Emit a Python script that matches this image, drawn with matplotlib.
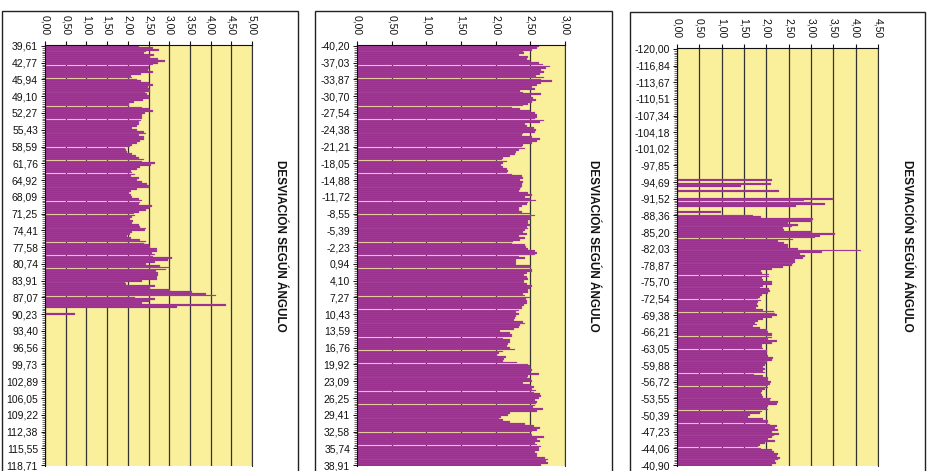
import matplotlib
matplotlib.use('Agg')
import matplotlib.pyplot as plt
from matplotlib.ticker import FixedLocator, FuncFormatter, MultipleLocator
from matplotlib.patches import Rectangle

plt.rcParams['font.family'] = ['Liberation Sans', 'DejaVu Sans']

W, H = 932, 471

title = "DESVIACIÓN SEGÚN ÁNGULO"

labels1 = ["39,61", "42,77", "45,94", "49,10", "52,27", "55,43", "58,59", "61,76", "64,92",
           "68,09", "71,25", "74,41", "77,58", "80,74", "83,91", "87,07", "90,23", "93,40",
           "96,56", "99,73", "102,89", "106,05", "109,22", "112,38", "115,55", "118,71"]
labels2 = ["-40,20", "-37,03", "-33,87", "-30,70", "-27,54", "-24,38", "-21,21", "-18,05",
           "-14,88", "-11,72", "-8,55", "-5,39", "-2,23", "0,94", "4,10", "7,27", "10,43",
           "13,59", "16,76", "19,92", "23,09", "26,25", "29,41", "32,58", "35,74", "38,91"]
labels3 = ["-120,00", "-116,84", "-113,67", "-110,51", "-107,34", "-104,18", "-101,02",
           "-97,85", "-94,69", "-91,52", "-88,36", "-85,20", "-82,03", "-78,87", "-75,70",
           "-72,54", "-69,38", "-66,21", "-63,05", "-59,88", "-56,72", "-53,55", "-50,39",
           "-47,23", "-44,06", "-40,90"]

vals1 = [
    2.26, 2.6, 2.76, 2.44, 2.38, 2.64, 2.54, 2.73, 2.9, 2.73,
    2.62, 2.5, 2.5, 2.48, 2.62, 2.31, 2.07, 2.1, 2.22, 2.32,
    2.52, 2.6, 2.48, 2.5, 2.54, 2.42, 2.46, 2.5, 2.5, 2.36,
    2.14, 2.02, 2.04, 2.34, 2.52, 2.6, 2.42, 2.35, 2.34, 2.35,
    2.31, 2.28, 2.26, 2.22, 2.1, 2.22, 2.38, 2.44, 2.26, 2.38,
    2.4, 2.3, 2.23, 2.1, 2.06, 1.94, 1.96, 1.98, 2.1, 2.2,
    2.26, 2.38, 2.34, 2.65, 2.56, 2.3, 2.22, 2.07, 2.1, 2.18,
    2.07, 2.26, 2.22, 2.34, 2.46, 2.5, 2.5, 2.22, 2.07, 2.02,
    2.07, 2.1, 2.26, 2.34, 2.3, 2.26, 2.58, 2.5, 2.44, 2.26,
    2.14, 2.18, 2.1, 2.06, 2.12, 2.1, 2.28, 2.3, 2.44, 2.42,
    2.1, 2.06, 1.98, 2.07, 2.3, 2.44, 2.38, 2.5, 2.54, 2.7,
    2.7, 2.58, 2.66, 2.62, 3.06, 2.96, 2.65, 2.44, 2.77, 3.0,
    2.93, 2.69, 2.74, 2.74, 2.7, 2.7, 2.34, 1.94, 1.96, 2.66,
    2.54, 3.02, 3.55, 3.89, 4.14, 2.18, 2.65, 2.52, 2.35, 4.38,
    3.2, 0, 0, 0, 0.72, 0, 0, 0, 0, 0,
    0, 0, 0, 0, 0, 0, 0, 0, 0, 0,
    0, 0, 0, 0, 0, 0, 0, 0, 0, 0,
    0, 0, 0, 0, 0, 0, 0, 0, 0, 0,
    0, 0, 0, 0, 0, 0, 0, 0, 0, 0,
    0, 0, 0, 0, 0, 0, 0, 0, 0, 0,
    0, 0, 0, 0, 0, 0, 0, 0, 0, 0,
    0, 0, 0, 0, 0, 0, 0, 0, 0, 0,
    0, 0, 0, 0, 0, 0,
]

vals2 = [
    2.62, 2.6, 2.52, 2.4, 2.41, 2.34, 2.47, 2.45, 2.5, 2.62,
    2.68, 2.79, 2.73, 2.66, 2.7, 2.64, 2.58, 2.69, 2.65, 2.81,
    2.66, 2.6, 2.53, 2.57, 2.35, 2.39, 2.66, 2.5, 2.54, 2.58,
    2.52, 2.47, 2.4, 2.23, 2.35, 2.5, 2.57, 2.6, 2.59, 2.57,
    2.7, 2.64, 2.42, 2.45, 2.55, 2.58, 2.57, 2.4, 2.38, 2.52,
    2.64, 2.6, 2.52, 2.4, 2.38, 2.42, 2.34, 2.29, 2.28, 2.21,
    2.1, 2.09, 2.16, 2.1, 2.07, 2.11, 2.16, 2.18, 2.16,
    2.23, 2.38, 2.39, 2.35, 2.39, 2.38, 2.38, 2.36,
    2.35, 2.34, 2.47, 2.53, 2.42, 2.5, 2.58, 2.47, 2.45, 2.38,
    2.34, 2.33, 2.38, 2.5, 2.57, 2.5, 2.49, 2.47,
    2.47, 2.5, 2.45, 2.47, 2.42, 2.4, 2.45, 2.33, 2.42, 2.35,
    2.25, 2.23, 2.42, 2.44, 2.47, 2.57, 2.59,
    2.57, 2.33, 2.42, 2.3, 2.29, 2.3, 2.49, 2.51, 2.52, 2.53,
    2.45, 2.41, 2.45, 2.46, 2.41, 2.41, 2.45, 2.52, 2.5,
    2.47, 2.47, 2.4, 2.42, 2.5, 2.44, 2.45, 2.45, 2.41, 2.38,
    2.38, 2.34, 2.29, 2.33, 2.29, 2.28, 2.27, 2.4,
    2.42, 2.35, 2.34, 2.26, 2.06, 2.21, 2.23, 2.24, 2.11, 2.21,
    2.2, 2.18, 2.16, 2.21, 2.28, 2.11, 2.05, 2.02, 2.15, 2.12,
    2.1, 2.31, 2.47, 2.49, 2.5, 2.52, 2.5, 2.63, 2.47, 2.45,
    2.5, 2.52, 2.4, 2.5, 2.55, 2.52, 2.58, 2.55, 2.64, 2.65,
    2.63, 2.57, 2.59, 2.58, 2.57, 2.54, 2.68, 2.6, 2.21,
    2.18, 2.07, 2.05, 2.1, 2.21, 2.42, 2.55, 2.64, 2.59, 2.53,
    2.5, 2.52, 2.7, 2.6, 2.64, 2.57, 2.59, 2.65, 2.62, 2.63,
    2.57, 2.59, 2.6, 2.71, 2.75, 2.73, 2.75, 2.66,
]

vals3 = [
    0, 0, 0, 0, 0, 0, 0, 0, 0, 0,
    0, 0, 0, 0, 0, 0, 0, 0, 0, 0,
    0, 0, 0, 0, 0, 0, 0, 0, 0, 0,
    0, 0, 0, 0, 0, 0, 0, 0, 0, 0,
    0, 0, 0, 0, 0, 0, 0, 0, 0, 0,
    0, 0, 0, 0, 0, 0, 0, 0, 0, 0,
    0, 0, 0, 0, 0, 0, 0, 0, 0, 0,
    0, 2.13, 0, 2.10, 1.43, 0, 0, 2.29, 0, 0,
    0, 3.5, 2.84, 3.01, 3.31, 2.66, 0, 0, 0.99, 0,
    1.71, 1.88,
    3.05, 3.03, 2.49, 2.7, 2.57, 2.38, 2.4, 3.03, 3.54, 3.2,
    3.09, 2.6, 2.25, 2.4, 2.49, 2.49, 2.72, 4.13, 3.24, 2.75,
    2.87, 2.83, 2.64, 2.64, 2.6, 2.58, 2.38, 2.12, 1.88, 1.9,
    2.07, 2.06, 1.9, 1.93, 2.12, 2.13, 1.93, 1.86, 2.07,
    2.08, 2.04, 1.9, 1.86, 1.81, 1.88, 1.81, 1.78, 1.81, 1.76,
    1.93, 2.18, 2.19, 2.23, 2.12, 1.93, 1.82, 1.75, 1.78, 1.71,
    1.86, 2.01, 2.04, 2.12, 2.13, 2.12, 2.04, 2.23, 2.12, 1.9,
    1.91, 1.93, 2.02, 2.01, 1.99, 2.04, 2.16, 2.12,
    2.01, 1.99, 1.96, 1.93, 1.97, 1.93, 1.96, 1.73, 1.93, 2.03,
    2.04, 2.1, 2.08, 2.04, 2.03, 1.96, 1.9, 1.88, 1.9,
    1.93, 2.1, 2.08, 2.27, 2.23, 2.04, 1.99, 2.03, 1.9,
    1.86, 1.63, 1.6, 1.93, 2.04, 2.03, 2.08, 2.23, 2.19, 2.25,
    2.12, 2.28, 2.18, 2.12, 2.04, 2.19, 1.97, 1.86, 1.82, 1.88,
    2.13, 2.18, 2.25, 2.23, 2.31, 2.27, 2.19, 2.21, 2.13,
]

xmaxes = [5.0, 3.0, 4.5]

BAR = '#972a8b'
BAR_EDGE = '#b463a8'
BG = '#faf09c'
GRID = '#333333'

fig = plt.figure(figsize=(W / 100, H / 100), dpi=100)
fig.patch.set_facecolor('white')

# (box_left, box_right, box_top, plot_left, plot_right, plot_top, plot_bottom, title_x)
layout = [
    (2, 298, 11, 45, 252, 45, 466, 280),
    (315, 612, 11, 357, 565, 45, 466, 593),
    (630, 925, 12, 677, 878, 48, 466, 907),
]

panels = [(vals1, labels1), (vals2, labels2), (vals3, labels3)]

for (vals, labs), xmax, lay in zip(panels, xmaxes, layout):
    bl, br, bt, pl, pr, pt, pb, tx = lay
    fig.patches.append(Rectangle((bl / W, -0.05), (br - bl) / W, (1 - bt / H) + 0.05,
                                 transform=fig.transFigure, fill=False,
                                 edgecolor='#222222', linewidth=1.0, zorder=0))
    ax = fig.add_axes([pl / W, 1 - pb / H, (pr - pl) / W, (pb - pt) / H])
    ax.set_facecolor(BG)
    n = len(vals)
    ax.barh(range(n), vals, height=0.95, color=BAR, edgecolor=BAR_EDGE,
            linewidth=0.2, zorder=2)
    ax.set_xlim(0, xmax)
    ax.set_ylim(n - 0.5, -0.5)
    ax.xaxis.set_major_locator(MultipleLocator(0.5))
    ax.xaxis.set_major_formatter(FuncFormatter(lambda v, p: f"{v:.2f}".replace('.', ',')))
    ax.xaxis.tick_top()
    ax.grid(axis='x', color=GRID, linewidth=0.9, zorder=1)
    ax.set_axisbelow(True)
    for lbl in ax.get_xticklabels():
        lbl.set_rotation(-90)
    ax.tick_params(axis='x', which='major', labelsize=7.5, length=3, width=0.8,
                   direction='out', pad=4, colors='#111111')
    ax.yaxis.set_major_locator(FixedLocator(list(range(0, n, 9))))
    ax.set_yticklabels(labs)
    ax.yaxis.set_minor_locator(FixedLocator(list(range(n))))
    ax.tick_params(axis='y', which='major', labelsize=7.5, length=3, width=0.7,
                   direction='out', pad=2, colors='#111111')
    ax.tick_params(axis='y', which='minor', length=2, width=0.4, direction='out')
    ax.spines['bottom'].set_visible(False)
    ax.spines['right'].set_color(GRID)
    ax.spines['left'].set_color('#111111')
    ax.spines['top'].set_color('#111111')
    fig.text(tx / W, 1 - 246 / H, title, rotation=-90, ha='center', va='center',
             fontsize=8.5, fontweight='bold', color='#111111')

fig.savefig('out.png', dpi=100, facecolor='white')
